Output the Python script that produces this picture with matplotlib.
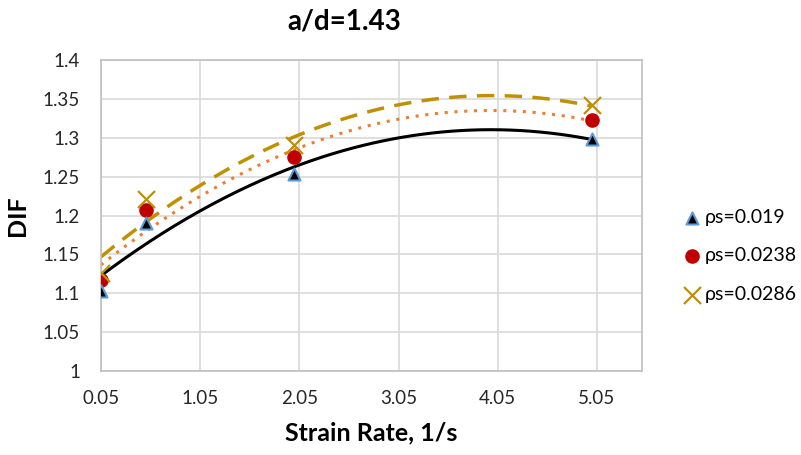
import numpy as np
import matplotlib.pyplot as plt

plt.rcParams['font.family'] = ['Lato', 'DejaVu Sans']

strain_rate = [0.05, 0.5, 2.0, 5.0]
dif_019 = [1.103, 1.191, 1.253, 1.299]
dif_0238 = [1.117, 1.207, 1.275, 1.323]
dif_0286 = [1.126, 1.221, 1.291, 1.342]

x_ticks = [0.05, 1.05, 2.05, 3.05, 4.05, 5.05]
y_ticks = [1, 1.05, 1.1, 1.15, 1.2, 1.25, 1.3, 1.35, 1.4]

fig = plt.figure(figsize=(8.01, 4.55), dpi=100)
ax = fig.add_axes([0.126, 0.1846, 0.675, 0.6835])

# polynomial (order 2) trendlines, as in the spreadsheet
xs = np.linspace(strain_rate[0], strain_rate[-1], 200)
for ys, col, ls, lw in [(dif_019, 'black', '-', 2.2),
                        (dif_0238, '#ED7D31', (0, (1, 2.2)), 2.2),
                        (dif_0286, '#BF9000', (0, (5, 3)), 2.5)]:
    c = np.polyfit(strain_rate, ys, 2)
    ax.plot(xs, np.polyval(c, xs), color=col, linestyle=ls, lw=lw, zorder=2)

ax.scatter(strain_rate, dif_019, marker='^', s=75, c='black',
           edgecolors='#5B9BD5', linewidths=1.5, zorder=4, label='ρs=0.019')
ax.scatter(strain_rate, dif_0238, marker='o', s=90, c='#C00000',
           zorder=3, label='ρs=0.0238')
ax.scatter(strain_rate, dif_0286, marker='x', s=150, c='#BF9000',
           linewidths=1.6, zorder=5, label='ρs=0.0286')

ax.set_xlim(0.05, 5.5)
ax.set_ylim(1, 1.4)
ax.set_xticks(x_ticks)
ax.set_xticklabels([f'{v:.2f}' for v in x_ticks])
ax.set_yticks(y_ticks)
ax.set_yticklabels([f'{v:g}' for v in y_ticks])
ax.tick_params(length=0, labelsize=13.5, colors='#262626')
ax.tick_params(axis='x', pad=14)
ax.tick_params(axis='y', pad=15)
ax.grid(color='#D9D9D9', lw=1.2)
ax.set_axisbelow(True)
for s in ax.spines.values():
    s.set_color('#BFBFBF')
    s.set_linewidth(1.2)

ax.set_xlabel('Strain Rate, 1/s', fontsize=18, fontweight='bold', labelpad=10)
ax.set_ylabel('DIF', fontsize=18, fontweight='bold', labelpad=10)
fig.text(0.43, 0.952, 'a/d=1.43', fontsize=20, fontweight='bold',
         ha='center', va='center')

ax.legend(loc='center left', bbox_to_anchor=(1.06, 0.37), frameon=False,
          fontsize=14, handlelength=1.0, handletextpad=0.2,
          labelspacing=1.12, borderaxespad=0)

fig.savefig('out.png', dpi=100)
